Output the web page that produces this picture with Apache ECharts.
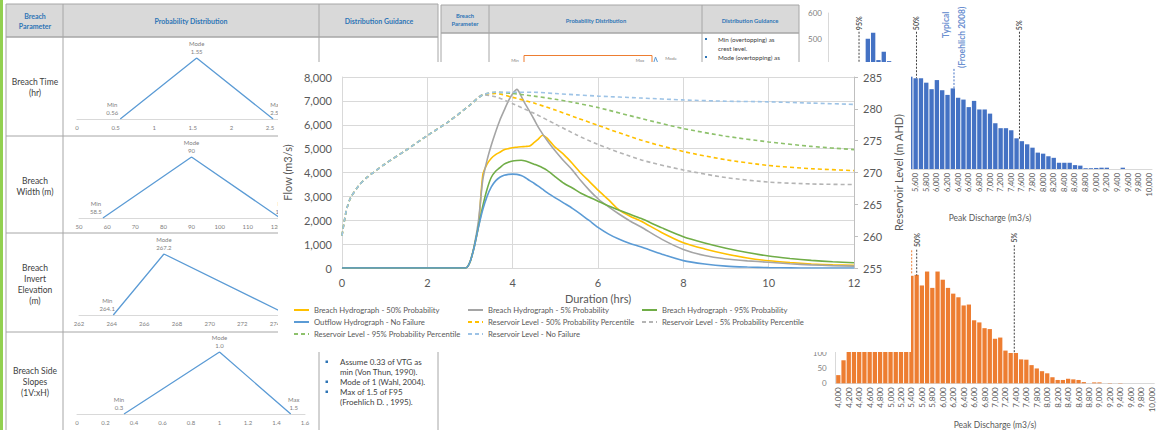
<!DOCTYPE html>
<html><head><meta charset="utf-8">
<script src="https://cdn.jsdelivr.net/npm/echarts@6/dist/echarts.min.js"></script>
<style>
html,body{margin:0;padding:0;background:#fff;overflow:hidden;width:1159px;height:430px}
#bg{position:absolute;left:0;top:0;width:1159px;height:430px}
#main{position:absolute;left:278px;top:62px;width:633px;height:290px;background:#fff;z-index:2}
</style></head><body>
<div id="bg"></div><div id="main"></div>
<script>
// ---------------- Main chart data ----------------
const flowTimes = [0, 2.9, 3.0, 3.1, 3.2, 3.3, 3.4, 3.5, 3.6, 3.7, 3.8, 3.9, 4.0, 4.1, 4.2, 4.3, 4.4, 4.5, 4.6, 4.7, 4.8, 4.9, 5.0, 5.2, 5.4, 5.6, 5.8, 6.0, 6.25, 6.5, 6.75, 7.0, 7.5, 8.0, 8.5, 9.0, 9.5, 10.0, 10.5, 11.0, 11.5, 12.0];
const breach50 = [0,0,250,900,1800,3900,4350,4600,4750,4850,4950,5000,5040,5060,5080,5090,5110,5250,5400,5560,5450,5250,5050,4750,4380,3970,3620,3260,2850,2420,2170,1970,1480,1060,800,590,420,305,230,170,130,110];
const breach5 = [0,0,250,950,2000,3700,4520,5150,5700,6190,6600,7000,7300,7480,7200,6850,6550,6230,5900,5620,5360,5120,4900,4480,4100,3650,3250,2900,2560,2250,1970,1730,1200,780,520,380,300,240,180,130,100,80];
const breach95 = [0,0,250,900,1750,2600,3300,3800,4050,4200,4350,4430,4480,4500,4510,4480,4420,4350,4280,4200,4100,3960,3820,3550,3350,3130,2960,2800,2600,2420,2250,2080,1680,1310,1050,830,650,500,400,320,260,220];
const outflowNoFail = [0,0,250,880,1720,2450,3000,3400,3650,3800,3880,3920,3930,3920,3870,3780,3660,3550,3430,3300,3170,3050,2940,2720,2500,2250,1980,1700,1420,1200,1030,890,580,310,170,80,40,15,5,0,0,0];

const levelTimes = [0, 0.1, 0.2, 0.4, 0.6, 1.0, 1.5, 2.0, 2.5, 3.0, 3.3, 3.6, 4.0, 4.5, 5.0, 5.5, 6.0, 7.0, 8.0, 9.0, 10.0, 11.0, 12.0];
const level50 = [260.1,264.0,266.0,268.0,269.3,271.3,273.5,275.8,278.0,280.6,282.2,282.4,281.8,280.9,279.8,278.6,277.4,275.1,273.3,272.0,271.1,270.6,270.3];
const level5 = [260.1,264.0,266.0,268.0,269.3,271.3,273.5,275.8,278.0,280.6,282.2,281.9,280.8,279.3,277.6,275.9,274.4,272.0,270.4,269.2,268.5,268.2,268.1];
const level95 = [260.1,264.0,266.0,268.0,269.3,271.3,273.5,275.8,278.0,280.6,282.2,282.6,282.4,282.0,281.5,280.9,280.2,278.5,276.9,275.7,274.8,274.1,273.6];
const levelNoFail = [260.1,264.0,266.0,268.0,269.3,271.3,273.5,275.8,278.0,280.6,282.2,282.6,282.6,282.6,282.4,282.2,282.0,281.7,281.4,281.2,281.1,280.9,280.7];

// ---------------- Background: triangular distributions ----------------
const timeTri = [0.56, 1.55, 2.54];      const timeTriLbl = ['Min\n0.56', 'Mode\n1.55', 'Max\n2.54'];
const widthTri = [58.5, 90, 121.5];      const widthTriLbl = ['Min\n58.5', 'Mode\n90', 'Max\n121.5'];
const invertTri = [264.1, 267.2, 274.8]; const invertTriLbl = ['Min\n264.1', 'Mode\n267.2', 'Max\n274.8'];
const slopeTri = [0.33, 1.0, 1.5];       const slopeTriLbl = ['Min\n0.3', 'Mode\n1.0', 'Max\n1.5'];

// ---------------- Background: peak discharge histograms ----------------
const dischargeBins = ['4000','4100','4200','4300','4400','4500','4600','4700','4800','4900','5000','5100','5200','5300','5400','5500','5600','5700','5800','5900','6000','6100','6200','6300','6400','6500','6600','6700','6800','6900','7000','7100','7200','7300','7400','7500','7600','7700','7800','7900','8000','8100','8200','8300','8400','8500','8600','8700','8800','8900','9000','9100','9200','9300','9400','9500','9600','9700','9800','9900','10000'];
const blueCounts = [20,70,150,230,300,360,390,501,524,419,451,415,400,380,370,355,349,349,332,307,342,303,285,310,274,267,238,262,229,229,213,176,157,157,149,118,107,95,82,63,59,49,43,24,24,24,15,13,3,3,4,5,5,0,0,5,0,0,0,0,0];
const orangeCounts = [27,76,130,190,240,280,310,340,360,330,350,340,330,345,355,358,323,369,315,369,342,315,296,284,257,260,208,201,182,179,147,151,108,100,100,79,78,60,49,40,33,20,11,11,15,13,11,4,0,3,3,0,1,0,1,0,0,0,0,0,0];
// percentile markers: [label, discharge, top count, bottom count]
const blueMarkers = [['95%', 4534, 528, 360], ['50%', 5616, 528, 349], ['5%', 7555, 528, 111]];
const blueTypical = [6322, 385, 310];
const orangeMarkers = [['50%', 5501, 441, 356], ['5%', 7369, 456, 100]];
const orangeTypical = [5405, 439, 360];

const FONT = 'Lato';
const pairs = (ts, vs) => ts.map((t, i) => [t, vs[i]]);
const comma = v => Number(v).toLocaleString('en-US');

// ---------- graphics helpers (table structure) ----------
function T(x, y, text, size, color, o) {
  o = o || {};
  return {type: 'text', silent: true, z: 10, style: {
    x: x, y: y, text: text, fill: color || '#404040',
    font: (o.bold ? 'bold ' : '') + size + 'px ' + FONT,
    align: o.align || 'center', textAlign: o.align || 'center',
    verticalAlign: 'middle', textVerticalAlign: 'middle',
    lineHeight: o.lh || Math.round(size * 1.3)}};
}
function L(x1, y1, x2, y2, c, w) {
  return {type: 'line', silent: true, z: 5, shape: {x1: x1, y1: y1, x2: x2, y2: y2}, style: {stroke: c || '#A6A6A6', lineWidth: w || 1}};
}
function R(x, y, w, h, fill, stroke) {
  return {type: 'rect', silent: true, z: 1, shape: {x: x, y: y, width: w, height: h}, style: {fill: fill || 'none', stroke: stroke || 'none', lineWidth: 1}};
}
const HB = '#2E75B6';
const graphics = [
  R(0, 0, 3, 430, '#92D050'),
  // table 1
  R(6, 4, 432, 33, '#D9D9D9'),
  L(6, 4, 438, 4), L(6, 37, 438, 37, '#A6A6A6', 1.5), L(6, 136, 438, 136), L(6, 233, 438, 233), L(6, 332, 438, 332),
  L(6, 4, 6, 430), L(63, 4, 63, 430), L(319, 4, 319, 430), L(438, 4, 438, 430),
  T(35, 21, 'Breach\nParameter', 7, HB, {bold: true, lh: 10}),
  T(191, 21, 'Probability Distribution', 7, HB, {bold: true}),
  T(379, 21, 'Distribution Guidance', 7, HB, {bold: true}),
  T(35, 87.5, 'Breach Time\n(hr)', 8.5, '#404040', {lh: 11}),
  T(35, 186, 'Breach\nWidth (m)', 8.5, '#404040', {lh: 11}),
  T(35, 284, 'Breach\nInvert\nElevation\n(m)', 8.5, '#404040', {lh: 11}),
  T(35, 382, 'Breach Side\nSlopes\n(1V:xH)', 8.5, '#404040', {lh: 11}),
  R(325.5, 360.5, 2.5, 2.5, HB), R(325.5, 380.5, 2.5, 2.5, HB), R(325.5, 390.5, 2.5, 2.5, HB),
  T(340, 362, 'Assume 0.33 of VTG as', 8, '#404040', {align: 'left'}),
  T(340, 372, 'min (Von Thun, 1990).', 8, '#404040', {align: 'left'}),
  T(340, 382, 'Mode of 1 (Wahl, 2004).', 8, '#404040', {align: 'left'}),
  T(340, 392, 'Max of 1.5 of F95', 8, '#404040', {align: 'left'}),
  T(340, 402, '(Froehlich D. , 1995).', 8, '#404040', {align: 'left'}),
  // table 2
  R(441, 5, 358, 28, '#D9D9D9'),
  L(441, 5, 799, 5), L(441, 33, 799, 33, '#A6A6A6', 1.5),
  L(441, 5, 441, 70), L(489, 5, 489, 70), L(702, 5, 702, 70), L(799, 5, 799, 70),
  T(465, 19, 'Breach\nParameter', 5.8, HB, {bold: true, lh: 8}),
  T(596, 20, 'Probability Distribution', 5.8, HB, {bold: true}),
  T(750, 20, 'Distribution Guidance', 5.8, HB, {bold: true}),
  R(705, 38, 2, 2, HB), R(705, 56, 2, 2, HB),
  T(718, 39, 'Min (overtopping) as', 6.3, '#404040', {align: 'left'}),
  T(718, 48, 'crest level.', 6.3, '#404040', {align: 'left'}),
  T(718, 57, 'Mode (overtopping) as', 6.3, '#404040', {align: 'left'}),
  R(524, 55.5, 128, 30, 'none', '#ED7D31'),
  T(515, 60, 'Min', 4.5, '#808080'), T(640, 60, 'Max', 4.5, '#808080'), T(671, 58, 'Mode', 4.5, '#808080'),
  {type: 'polyline', silent: true, z: 6, shape: {points: [[652, 68], [655.5, 57], [659, 66]]}, style: {stroke: '#5B9BD5', lineWidth: 1, fill: 'none'}}
];

// ---------- triangle chart builders ----------
const NB = {outerBoundsMode: 'none', containLabel: false};
const triGrids = [
  Object.assign({left: 77, top: 58, width: 212.3, height: 61}, NB),
  Object.assign({left: 79, top: 157, width: 211, height: 61}, NB),
  Object.assign({left: 79, top: 254, width: 212.3, height: 61}, NB),
  Object.assign({left: 77, top: 352, width: 228, height: 62}, NB)
];
const triAxes = [[0, 2.75, 0.5], [50, 125, 10], [262, 275, 2], [0, 1.6, 0.2]];
const triVals = [timeTri, widthTri, invertTri, slopeTri];
const triLbls = [timeTriLbl, widthTriLbl, invertTriLbl, slopeTriLbl];
const minOff = [-8, -7, -6, -5];

const grids = triGrids.slice();
const xAxes = [], yAxes = [], bgSeries = [];
triAxes.forEach((a, i) => {
  xAxes.push({type: 'value', gridIndex: i, min: a[0], max: a[1], interval: a[2],
    axisLine: {show: true, lineStyle: {color: '#D9D9D9'}}, axisTick: {show: false}, splitLine: {show: false},
    axisLabel: {fontSize: 6, color: '#808080', margin: 5, fontFamily: FONT, showMaxLabel: i === 3}});
  yAxes.push({type: 'value', gridIndex: i, min: 0, max: 1, show: false});
  const v = triVals[i], lb = triLbls[i];
  const lab = (t, pos, off) => ({show: true, formatter: t, position: pos, offset: off, distance: 2, fontSize: 6, lineHeight: 8, color: '#808080', fontFamily: FONT});
  bgSeries.push({type: 'line', xAxisIndex: i, yAxisIndex: i, silent: true, animation: false,
    symbol: 'circle', symbolSize: 0.1, showSymbol: true,
    lineStyle: {color: '#5B9BD5', width: 1.3}, itemStyle: {color: '#5B9BD5'},
    data: [
      {value: [v[0], 0], label: lab(lb[0], 'top', [minOff[i], 0])},
      {value: [v[1], 1], label: lab(lb[1], 'top', [0, 0])},
      {value: [v[2], 0], label: lab(lb[2], 'top', [3, 0])}
    ]});
});

// ---------- histograms ----------
function histGrid(idx, g, counts, color, ymax, yint, labSize, nameGap, marg) {
  grids.push(Object.assign(g, NB));
  xAxes.push({type: 'category', gridIndex: idx, data: dischargeBins, boundaryGap: true,
    name: 'Peak Discharge (m3/s)', nameLocation: 'middle', nameGap: nameGap,
    nameTextStyle: {color: '#595959', fontSize: 8.5, fontFamily: FONT},
    axisLine: {show: true, lineStyle: {color: '#D9D9D9'}}, axisTick: {show: false},
    axisLabel: {rotate: 90, interval: 1, fontSize: labSize, color: '#595959', margin: 4, fontFamily: FONT, formatter: comma}});
  const catX = xAxes.length - 1;
  xAxes.push({type: 'value', gridIndex: idx, min: 3950, max: 10050, show: false});
  const valX = xAxes.length - 1;
  yAxes.push({type: 'value', gridIndex: idx, min: 0, max: ymax, interval: yint,
    axisLine: {show: true, lineStyle: {color: '#D9D9D9'}}, axisTick: {show: false}, splitLine: {show: false},
    axisLabel: {fontSize: 8, color: '#7F7F7F', margin: marg, fontFamily: FONT}});
  const yI = yAxes.length - 1;
  bgSeries.push({type: 'bar', xAxisIndex: catX, yAxisIndex: yI, data: counts, barCategoryGap: '18%',
    itemStyle: {color: color}, silent: true, animation: false});
  return [valX, yI];
}
const [bvx, byi] = histGrid(4, {left: 828, top: 13, width: 324, height: 156}, blueCounts, '#4472C4', 600, 100, 7.5, 44, 6);
const [ovx, oyi] = histGrid(5, {left: 835.7, top: 216.7, width: 318.6, height: 166.6}, orangeCounts, '#ED7D31', 550, 50, 8, 37, 9);

function markerSeries(vx, yi, m, color) {
  bgSeries.push({type: 'line', xAxisIndex: vx, yAxisIndex: yi, symbol: 'none', silent: true, animation: false,
    lineStyle: {color: color, width: 1, type: [2, 1.5]}, data: [[m[1], m[2]], [m[1], m[3]]], z: 5});
}
function rotLabel(vx, yi, x, y, text, color, size) {
  bgSeries.push({type: 'scatter', xAxisIndex: vx, yAxisIndex: yi, symbolSize: 1, silent: true, animation: false,
    itemStyle: {color: 'rgba(0,0,0,0)'}, z: 6,
    data: [{value: [x, y], label: {show: true, formatter: text, position: 'inside', rotate: 90, align: 'left', verticalAlign: 'middle',
      fontSize: size, color: color, fontFamily: FONT, fontWeight: 'bold'}}]});
}
blueMarkers.forEach(m => { markerSeries(bvx, byi, m, '#404040'); rotLabel(bvx, byi, m[1], m[2] + 6, m[0], '#262626', 7); });
markerSeries(bvx, byi, ['', blueTypical[0], blueTypical[1], blueTypical[2]], '#4472C4');
rotLabel(bvx, byi, 6172, 504, 'Typical', '#4472C4', 8.5);
rotLabel(bvx, byi, 6473, 388, '(Froehlich 2008)', '#4472C4', 8.5);
orangeMarkers.forEach(m => { markerSeries(ovx, oyi, m, '#404040'); rotLabel(ovx, oyi, m[1], m[2] + 9, m[0], '#262626', 7); });
markerSeries(ovx, oyi, ['', orangeTypical[0], orangeTypical[1], orangeTypical[2]], '#ED7D31');

const bg = echarts.init(document.getElementById('bg'), null, {renderer: 'svg'});
bg.setOption({
  backgroundColor: '#fff', animation: false, textStyle: {fontFamily: FONT},
  grid: grids, xAxis: xAxes, yAxis: yAxes, series: bgSeries, graphic: graphics
});

// ---------------- Main chart ----------------
const AX = '#595959';
const solid = (name, ts, vs, color) => ({name: name, type: 'line', yAxisIndex: 0, data: pairs(ts, vs), symbol: 'none', smooth: 0.25,
  lineStyle: {color: color, width: 1.6}, itemStyle: {color: color}});
const dashed = (name, ts, vs, color) => ({name: name, type: 'line', yAxisIndex: 1, data: pairs(ts, vs), symbol: 'none', smooth: 0.25,
  lineStyle: {color: color, width: 1.6, type: [4, 3]}, itemStyle: {color: color}});
const legendBase = {orient: 'vertical', top: 244, itemGap: 4, itemWidth: 15, itemHeight: 10, padding: 0,
  itemStyle: {opacity: 0}, textStyle: {color: AX, fontSize: 7.7, fontFamily: FONT}};
const main = echarts.init(document.getElementById('main'), null, {renderer: 'svg'});
main.setOption({
  backgroundColor: '#fff', animation: false, textStyle: {fontFamily: FONT},
  grid: {left: 64, right: 57, top: 15, bottom: 84, outerBoundsMode: 'none', containLabel: false},
  xAxis: {type: 'value', min: 0, max: 12, interval: 2, name: 'Duration (hrs)', nameLocation: 'middle', nameGap: 23,
    nameTextStyle: {color: AX, fontSize: 11}, axisLine: {show: true, lineStyle: {color: '#D9D9D9'}}, axisTick: {show: false},
    axisLabel: {color: AX, fontSize: 11, margin: 9}, splitLine: {show: true, lineStyle: {color: '#D9D9D9'}}},
  yAxis: [
    {type: 'value', min: 0, max: 8000, interval: 1000, name: 'Flow (m3/s)', nameLocation: 'middle', nameRotate: 90, nameGap: 38,
      nameTextStyle: {color: AX, fontSize: 11}, axisLine: {show: true, lineStyle: {color: '#D9D9D9'}}, axisTick: {show: false},
      axisLabel: {color: AX, fontSize: 11, margin: 10, formatter: comma}, splitLine: {show: true, lineStyle: {color: '#D9D9D9'}}},
    {type: 'value', min: 255, max: 285, interval: 5, position: 'right', name: 'Reservoir Level (m AHD)', nameLocation: 'middle', nameRotate: 90, nameGap: 31,
      nameTextStyle: {color: AX, fontSize: 11}, axisLine: {show: true, lineStyle: {color: '#BFBFBF'}},
      axisTick: {show: true, length: 4, lineStyle: {color: '#BFBFBF'}},
      axisLabel: {color: AX, fontSize: 11, margin: 9}, splitLine: {show: false}}
  ],
  legend: [
    Object.assign({left: 15, data: ['Breach Hydrograph - 50% Probability', 'Outflow Hydrograph - No Failure', 'Reservoir Level - 95% Probability Percentile']}, legendBase),
    Object.assign({left: 189, data: ['Breach Hydrograph - 5% Probability', 'Reservoir Level - 50% Probability Percentile', 'Reservoir Level - No Failure']}, legendBase),
    Object.assign({left: 363, data: ['Breach Hydrograph - 95% Probability', 'Reservoir Level - 5% Probability Percentile']}, legendBase)
  ],
  series: [
    solid('Breach Hydrograph - 50% Probability', flowTimes, breach50, '#FFC000'),
    solid('Breach Hydrograph - 5% Probability', flowTimes, breach5, '#A5A5A5'),
    solid('Breach Hydrograph - 95% Probability', flowTimes, breach95, '#70AD47'),
    solid('Outflow Hydrograph - No Failure', flowTimes, outflowNoFail, '#5B9BD5'),
    dashed('Reservoir Level - 50% Probability Percentile', levelTimes, level50, '#FFC000'),
    dashed('Reservoir Level - 5% Probability Percentile', levelTimes, level5, '#B4B4B4'),
    dashed('Reservoir Level - 95% Probability Percentile', levelTimes, level95, '#8DC16B'),
    dashed('Reservoir Level - No Failure', levelTimes, levelNoFail, '#9DC3E6')
  ]
});
</script>
</body></html>
